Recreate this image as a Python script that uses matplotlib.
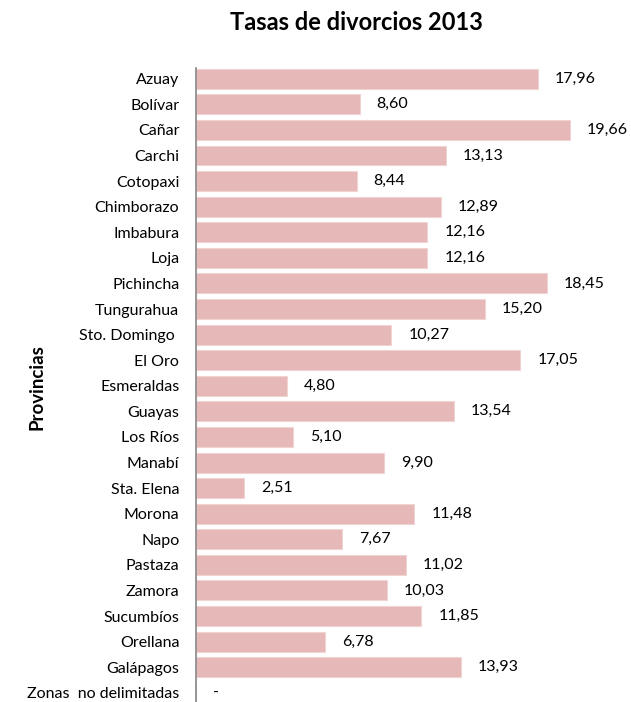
import matplotlib.pyplot as plt
import numpy as np

provincias = ['Azuay', 'Bolívar', 'Cañar', 'Carchi', 'Cotopaxi', 'Chimborazo',
              'Imbabura', 'Loja', 'Pichincha', 'Tungurahua', 'Sto. Domingo ',
              'El Oro', 'Esmeraldas', 'Guayas', 'Los Ríos', 'Manabí',
              'Sta. Elena', 'Morona', 'Napo', 'Pastaza', 'Zamora', 'Sucumbíos',
              'Orellana', 'Galápagos', 'Zonas  no delimitadas']
tasas = [17.96, 8.60, 19.66, 13.13, 8.44, 12.89, 12.16, 12.16, 18.45, 15.20,
         10.27, 17.05, 4.80, 13.54, 5.10, 9.90, 2.51, 11.48, 7.67, 11.02,
         10.03, 11.85, 6.78, 13.93, None]

plt.rcParams['font.family'] = ['Lato', 'DejaVu Sans']

fig = plt.figure(figsize=(6.31, 7.02), dpi=100)
ax = fig.add_axes([196 / 631, 0, 435 / 631, 634 / 702])

y = np.arange(len(provincias))
vals = [v if v is not None else 0 for v in tasas]
ax.barh(y, vals, height=0.78, color='#e6b8b7', edgecolor='#f0d4d3', linewidth=0.8)

for i, v in enumerate(tasas):
    txt = '-' if v is None else ('%.2f' % v).replace('.', ',')
    ax.annotate(txt, (vals[i], i), xytext=(17, 0), textcoords='offset pixels',
                va='center', ha='left', fontsize=11.5)

ax.set_xlim(0, 435 / 19.02)
ax.set_ylim(24.36, -0.42)
ax.set_yticks(y)
ax.set_yticklabels(provincias, fontsize=11.5)
ax.tick_params(axis='y', length=0, pad=12)
ax.set_xticks([])
for s in ['top', 'right', 'bottom']:
    ax.spines[s].set_visible(False)
ax.spines['left'].set_color('#868686')
ax.spines['left'].set_linewidth(1.2)

fig.text(356 / 631, 1 - 22 / 702, 'Tasas de divorcios 2013', ha='center',
         va='center', fontsize=17, fontweight='bold')
fig.text(37 / 631, 1 - 387 / 702, 'Provincias', rotation=90, ha='center',
         va='center', fontsize=13.5, fontweight='bold')

fig.savefig('out.png', dpi=100)
